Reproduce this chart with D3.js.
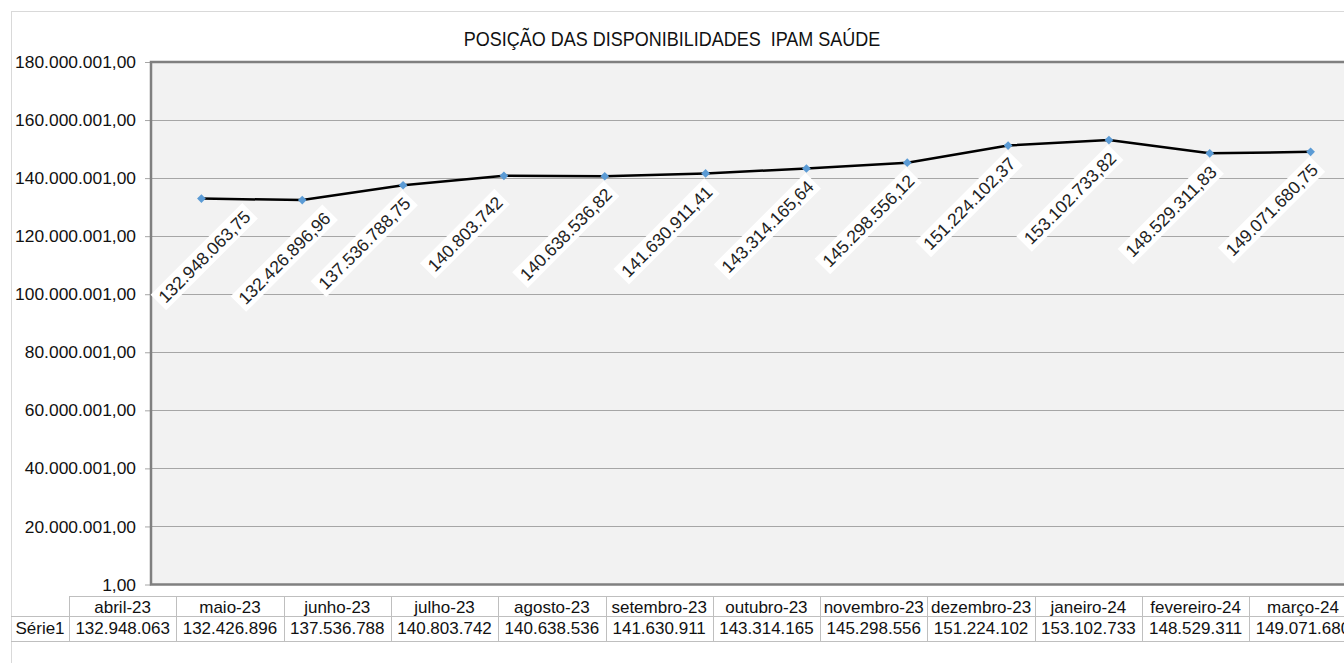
<!DOCTYPE html>
<html>
<head>
<meta charset="utf-8">
<script src="https://cdn.jsdelivr.net/npm/d3@7"></script>
<style>
  html, body { margin: 0; padding: 0; background: #fff; overflow: hidden; }
  svg { display: block; font-family: Arial, "Liberation Sans", sans-serif; }
</style>
</head>
<body>
<div id="chart"></div>
<script>
// data
const title = "POSIÇÃO DAS DISPONIBILIDADES  IPAM SAÚDE"
const seriesName = "Série1"
const months = ["abril-23", "maio-23", "junho-23", "julho-23", "agosto-23", "setembro-23",
    "outubro-23", "novembro-23", "dezembro-23", "janeiro-24", "fevereiro-24", "março-24"]
const values = [132948063.75, 132426896.96, 137536788.75, 140803742, 140638536.82, 141630911.41,
    143314165.64, 145298556.12, 151224102.37, 153102733.82, 148529311.83, 149071680.75]
const yTicks = [1, 20000001, 40000001, 60000001, 80000001, 100000001, 120000001, 140000001, 160000001, 180000001]

let width = 1344
let height = 663

// pt-BR style number formats
const ptBR = d3.formatLocale({decimal: ",", thousands: ".", grouping: [3], currency: ["R$", ""]})
const fmt2 = ptBR.format(",.2f")
const fmt0 = ptBR.format(",d")
const labelFmt = v => Number.isInteger(v) ? fmt0(v) : fmt2(v)

let svg = d3.select("#chart")
    .append("svg")
    .attr("width", width)
    .attr("height", height)

svg.append("rect")
    .attr("width", width)
    .attr("height", height)
    .attr("fill", "#fff")

// chart border (runs off the right and bottom like the original)
svg.append("rect")
    .attr("x", 11.5)
    .attr("y", 11.5)
    .attr("width", 1400)
    .attr("height", 700)
    .attr("fill", "#fff")
    .attr("stroke", "#d9d9d9")

let plot = {left: 151, top: 62, right: 1361, bottom: 584.5}

let x = d3.scaleBand()
    .domain(months)
    .range([plot.left, plot.right])

let y = d3.scaleLinear()
    .domain([1, 180000001])
    .range([plot.bottom, plot.top])

// title (slightly condensed, as in the original)
svg.append("text")
    .attr("transform", "translate(672,46) scale(0.9,1)")
    .attr("text-anchor", "middle")
    .attr("font-size", "20px")
    .attr("fill", "#111")
    .style("white-space", "pre")
    .text(title)

// plot area
svg.append("rect")
    .attr("x", plot.left)
    .attr("y", plot.top)
    .attr("width", plot.right - plot.left)
    .attr("height", plot.bottom - plot.top)
    .attr("fill", "#f2f2f2")

// gridlines + y axis
let yAxis = d3.axisLeft(y)
    .tickValues(yTicks)
    .tickSize(6)
    .tickPadding(9)
    .tickFormat(fmt2)

let yg = svg.append("g")
    .attr("transform", `translate(${plot.left},0)`)
    .call(yAxis)
yg.select(".domain").remove()
yg.selectAll(".tick line").attr("stroke", "#a6a6a6")
yg.selectAll(".tick text")
    .attr("fill", "#111")
    .attr("font-size", "17.4px")
    .attr("font-family", "Arial, 'Liberation Sans', sans-serif")

svg.append("g")
    .selectAll("line")
    .data(yTicks.slice(1, -1))
    .enter()
    .append("line")
    .attr("x1", plot.left)
    .attr("x2", plot.right)
    .attr("y1", d => Math.round(y(d)) + 0.5)
    .attr("y2", d => Math.round(y(d)) + 0.5)
    .attr("stroke", "#a6a6a6")
    .attr("stroke-width", 1)

// plot frame (top, left, bottom drawn darker)
svg.append("path")
    .attr("d", `M${plot.right},${plot.top} H${plot.left} V${plot.bottom} H${plot.right}`)
    .attr("fill", "none")
    .attr("stroke", "#808080")
    .attr("stroke-width", 2.5)

// series line
let cx = d => x(d.m) + x.bandwidth() / 2
let pts = months.map((m, i) => ({m: m, v: values[i]}))

svg.append("path")
    .datum(pts)
    .attr("fill", "none")
    .attr("stroke", "#000")
    .attr("stroke-width", 2.5)
    .attr("stroke-linejoin", "round")
    .attr("d", d3.line().x(cx).y(d => y(d.v)))

svg.append("g")
    .selectAll("path")
    .data(pts)
    .enter()
    .append("path")
    .attr("d", d3.symbol(d3.symbolSquare, 38))
    .attr("transform", d => `translate(${cx(d)},${y(d.v)}) rotate(45)`)
    .attr("fill", "#5b9bd5")

// data labels, rotated, with white boxes; pushed right where they would hit the axis
let labels = svg.append("g")
    .selectAll("g")
    .data(pts)
    .enter()
    .append("g")

labels.append("rect").attr("fill", "#fff")
labels.append("text")
    .attr("text-anchor", "middle")
    .attr("dy", "0.36em")
    .attr("font-size", "17.5px")
    .attr("fill", "#222")
    .text(d => labelFmt(d.v))

let prevX = -Infinity
labels.each(function(d) {
    let g = d3.select(this)
    let len = g.select("text").node().getComputedTextLength()
    let half = (len + 12) * Math.SQRT1_2 / 2
    let lx = Math.max(cx(d) - 39, plot.left + 6 + half, prevX + 80)
    prevX = lx
    g.attr("transform", `translate(${lx},${y(d.v) + 58}) rotate(-45)`)
    g.select("rect")
        .attr("x", -len / 2 - 4)
        .attr("y", -11)
        .attr("width", len + 8)
        .attr("height", 22)
})

// data table
let colLeft = 69
let colW = 107.3
let tx = d3.scaleBand()
    .domain(months)
    .range([colLeft, colLeft + colW * months.length])

let rowTop = 596.5, rowMid = 616.5, rowBot = 641.5
let table = svg.append("g")
    .attr("stroke", "#bfbfbf")
    .attr("stroke-width", 1)

table.append("line").attr("x1", colLeft).attr("x2", 1400).attr("y1", rowTop).attr("y2", rowTop)
table.append("line").attr("x1", 11).attr("x2", 1400).attr("y1", rowMid).attr("y2", rowMid)
table.append("line").attr("x1", 11).attr("x2", 1400).attr("y1", rowBot).attr("y2", rowBot)
table.selectAll(".col")
    .data(months.concat(["end"]))
    .enter()
    .append("line")
    .attr("class", "col")
    .attr("x1", (d, i) => Math.round(colLeft + i * colW) + 0.5)
    .attr("x2", (d, i) => Math.round(colLeft + i * colW) + 0.5)
    .attr("y1", rowTop)
    .attr("y2", rowBot)

let cells = svg.append("g")
    .attr("font-size", "17px")
    .attr("fill", "#111")
    .attr("text-anchor", "middle")

cells.selectAll(".hdr")
    .data(months)
    .enter()
    .append("text")
    .attr("class", "hdr")
    .attr("x", d => tx(d) + tx.bandwidth() / 2)
    .attr("y", 613)
    .text(d => d)

cells.selectAll(".val")
    .data(pts)
    .enter()
    .append("text")
    .attr("class", "val")
    .attr("x", d => tx(d.m) + tx.bandwidth() / 2)
    .attr("y", 634)
    .text(d => fmt0(Math.floor(d.v)))

cells.append("text")
    .attr("x", 40)
    .attr("y", 634)
    .text(seriesName)
</script>
</body>
</html>
